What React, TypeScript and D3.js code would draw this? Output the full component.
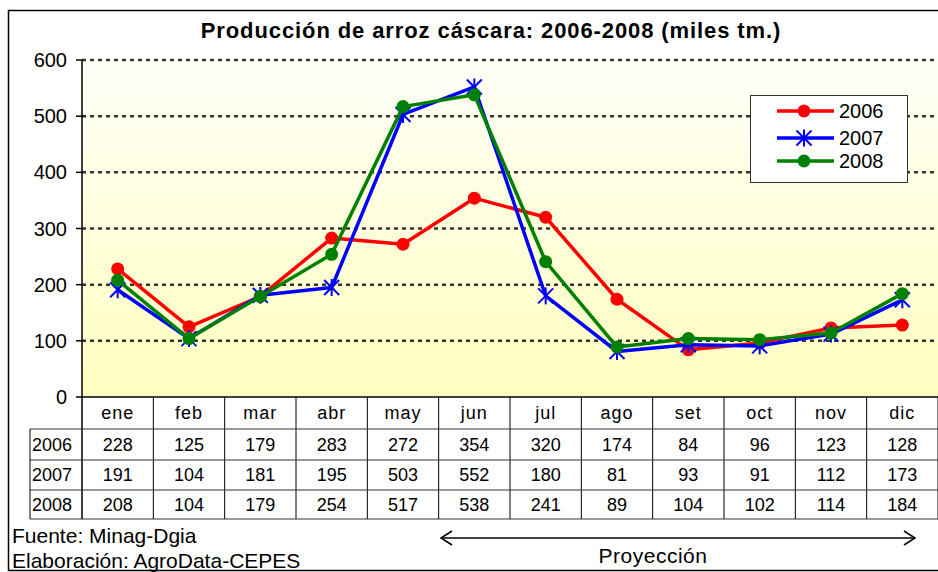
import React from 'react';
import * as d3 from 'd3';

const months = ['ene', 'feb', 'mar', 'abr', 'may', 'jun', 'jul', 'ago', 'set', 'oct', 'nov', 'dic'];
const years = ['2006', '2007', '2008'];
const v2006 = [228, 125, 179, 283, 272, 354, 320, 174, 84, 96, 123, 128];
const v2007 = [191, 104, 181, 195, 503, 552, 180, 81, 93, 91, 112, 173];
const v2008 = [208, 104, 179, 254, 517, 538, 241, 89, 104, 102, 114, 184];
const yTicks = [0, 100, 200, 300, 400, 500, 600];
const colors = ['#ff0000', '#0000ff', '#008000'];

const W = 938;
const H = 572;
const left = 82;
const right = 938;
const top = 60;
const bottom = 397;
const font = 'Liberation Sans, Arial, sans-serif';

const series = [v2006, v2007, v2008];

export default function App() {
  const x = d3.scaleBand<string>().domain(months).range([left, right]);
  const y = d3.scaleLinear().domain([0, 600]).range([bottom, top]);
  const cx = (m: string) => (x(m) as number) + x.bandwidth() / 2;
  const line = d3
    .line<number>()
    .x((d, i) => cx(months[i]))
    .y(d => y(d));

  // table rows
  const rowLines = [429, 460, 490, 519];
  const rowMid = (i: number) => (rowLines[i] + rowLines[i + 1]) / 2;

  const marker = (k: number, px: number, py: number, key: string) => {
    if (k === 1) {
      const s = 7.5;
      return (
        <g key={key} stroke={colors[k]} strokeWidth={2}>
          <line x1={px - s} y1={py - s} x2={px + s} y2={py + s} />
          <line x1={px - s} y1={py + s} x2={px + s} y2={py - s} />
          <line x1={px} y1={py - s - 1} x2={px} y2={py + s + 1} />
        </g>
      );
    }
    return <circle key={key} cx={px} cy={py} r={6.5} fill={colors[k]} />;
  };

  return (
    <svg width={W} height={H} style={{ position: 'absolute', left: 0, top: 0 }} fontFamily={font}>
      <defs>
        <linearGradient id="bg" x1="0" y1="0" x2="0" y2="1">
          <stop offset="0" stopColor="#fffff8" />
          <stop offset="1" stopColor="#ffffc0" />
        </linearGradient>
      </defs>
      <rect x={0} y={0} width={W} height={H} fill="#fff" />
      <rect x={8.5} y={10.5} width={940} height={560} fill="#fff" stroke="#000" strokeWidth={1.5} />

      <text x={491} y={38} textAnchor="middle" fontSize={22} fontWeight="bold" letterSpacing={0.9}>
        Producción de arroz cáscara: 2006-2008 (miles tm.)
      </text>

      {/* plot area */}
      <rect x={left} y={top} width={right - left} height={bottom - top} fill="url(#bg)" />
      {yTicks.slice(1).map(t => (
        <line key={t} x1={left} x2={right} y1={y(t)} y2={y(t)} stroke="#333" strokeWidth={2.5} strokeDasharray="4,4" />
      ))}
      <line x1={left} x2={left} y1={top} y2={rowLines[3]} stroke="#000" strokeWidth={1.5} />
      <line x1={left} x2={right} y1={bottom} y2={bottom} stroke="#000" strokeWidth={1.5} />
      {yTicks.map(t => (
        <g key={t}>
          <line x1={left - 6} x2={left} y1={y(t)} y2={y(t)} stroke="#000" strokeWidth={1.5} />
          <text x={67} y={y(t) + 7} textAnchor="end" fontSize={20}>
            {t}
          </text>
        </g>
      ))}

      {/* lines and markers */}
      {series.map((s, k) => (
        <g key={years[k]}>
          <path d={line(s) as string} fill="none" stroke={colors[k]} strokeWidth={3.5} strokeLinejoin="round" />
          {s.map((v, i) => marker(k, cx(months[i]), y(v), `${k}-${i}`))}
        </g>
      ))}

      {/* legend */}
      <rect x={750.5} y={95.5} width={157} height={87} fill="#fff" stroke="#333" strokeWidth={1} />
      {years.map((yr, k) => {
        const ly = [111, 138, 161][k];
        return (
          <g key={yr}>
            <line x1={777} x2={834} y1={ly} y2={ly} stroke={colors[k]} strokeWidth={3.5} />
            {marker(k, 804, ly, `l${k}`)}
            <text x={839} y={ly + 7} fontSize={20}>
              {yr}
            </text>
          </g>
        );
      })}

      {/* data table */}
      {months.map(m => (
        <g key={m}>
          <line x1={(x(m) as number) + x.bandwidth()} x2={(x(m) as number) + x.bandwidth()} y1={bottom} y2={rowLines[3]} stroke="#000" strokeWidth={1} />
          <text x={cx(m)} y={419} textAnchor="middle" fontSize={18} letterSpacing={1}>
            {m}
          </text>
        </g>
      ))}
      {rowLines.map(ry => (
        <line key={ry} x1={30} x2={right} y1={ry} y2={ry} stroke="#333" strokeWidth={1.2} />
      ))}
      <line x1={30} x2={30} y1={rowLines[0]} y2={rowLines[3]} stroke="#000" strokeWidth={1} />
      {series.map((s, k) => (
        <g key={'row' + k}>
          <text x={32} y={rowMid(k) + 6} fontSize={18}>
            {years[k]}
          </text>
          {s.map((v, i) => (
            <text key={i} x={cx(months[i])} y={rowMid(k) + 6} textAnchor="middle" fontSize={18}>
              {v}
            </text>
          ))}
        </g>
      ))}

      {/* footer */}
      <text x={12} y={543} fontSize={21}>
        Fuente: Minag-Dgia
      </text>
      <text x={12} y={568} fontSize={21}>
        Elaboración: AgroData-CEPES
      </text>
      <line x1={441} x2={915} y1={538} y2={538} stroke="#000" strokeWidth={1.5} />
      <path d="M452,531 L441,538 L452,545" fill="none" stroke="#000" strokeWidth={1.5} />
      <path d="M904,531 L915,538 L904,545" fill="none" stroke="#000" strokeWidth={1.5} />
      <text x={653} y={563} textAnchor="middle" fontSize={21} letterSpacing={0.5}>
        Proyección
      </text>
    </svg>
  );
}
